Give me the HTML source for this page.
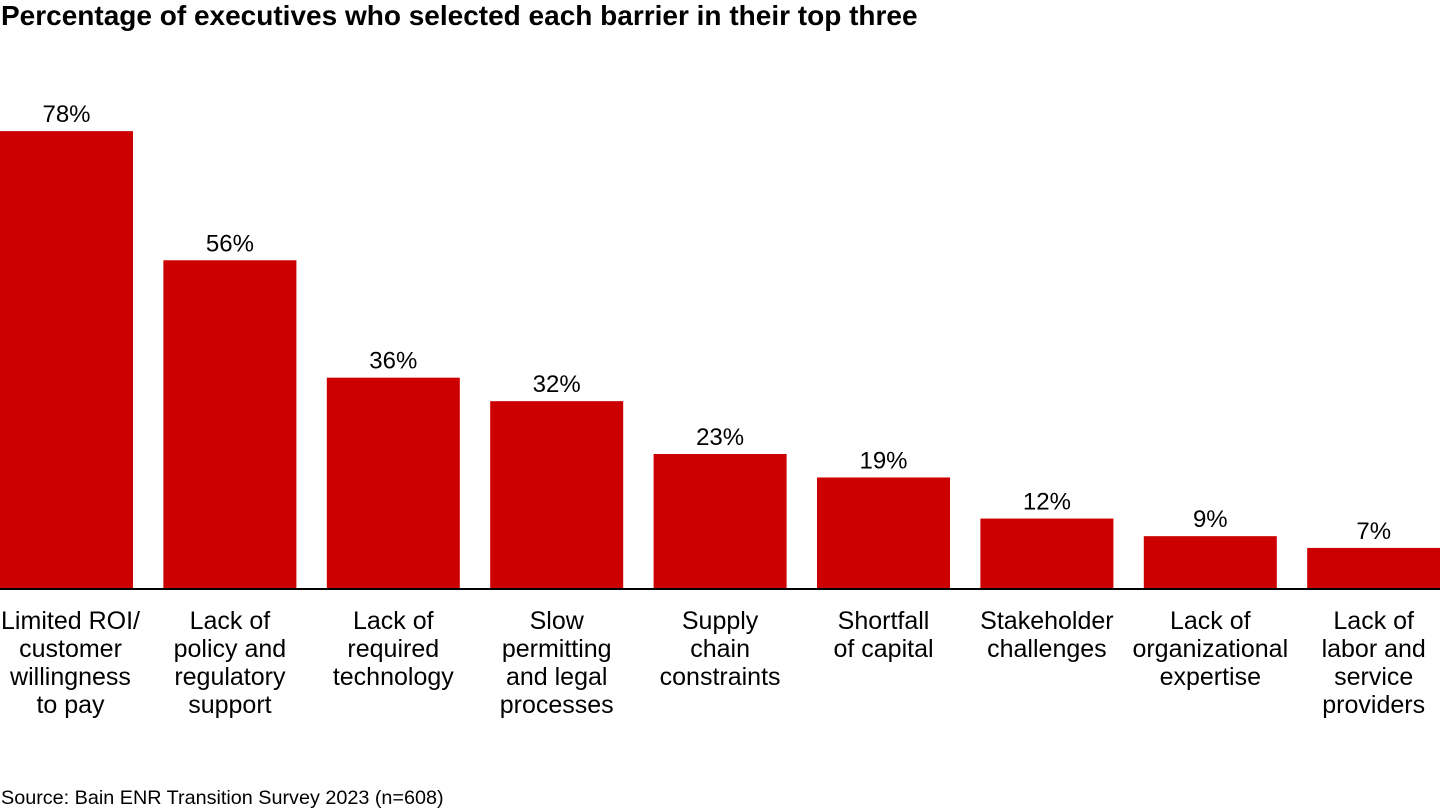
<!DOCTYPE html>
<html><head><meta charset="utf-8"><style>
html,body{margin:0;padding:0;background:#fff;width:1440px;height:810px;overflow:hidden;font-family:"Liberation Sans",Arial,sans-serif}
</style></head><body>
<svg id="chart" width="1440" height="810" xmlns="http://www.w3.org/2000/svg" font-family="Liberation Sans, Arial, sans-serif">
<text x="1" y="25" font-size="28" font-weight="bold" fill="#000">Percentage of executives who selected each barrier in their top three</text>
<g id="bars"></g>
<line x1="0" x2="1440" y1="589" y2="589" stroke="#000" stroke-width="2"/>
<text x="1" y="804" font-size="19.8" fill="#000">Source: Bain ENR Transition Survey 2023 (n=608)</text>
</svg>
<script>
const categories = [
 ["Limited ROI/","customer","willingness","to pay"],
 ["Lack of","policy and","regulatory","support"],
 ["Lack of","required","technology"],
 ["Slow","permitting","and legal","processes"],
 ["Supply","chain","constraints"],
 ["Shortfall","of capital"],
 ["Stakeholder","challenges"],
 ["Lack of","organizational","expertise"],
 ["Lack of","labor and","service","providers"]
];
const values = [78,56,36,32,23,19,12,9,7];
const valueLabels = ["78%","56%","36%","32%","23%","19%","12%","9%","7%"];
const labelShift = [4,0,0,0,0,0,0,0,0];

const NS="http://www.w3.org/2000/svg";
const g=document.getElementById('bars');
const baseY=589, pxPer=5.87, step=163.4, barW=133;
const xPos=i=>i*step;
const yPos=v=>baseY-v*pxPer;
values.forEach((v,i)=>{
  const r=document.createElementNS(NS,'rect');
  
  
  r.setAttribute('x',xPos(i));r.setAttribute('y',yPos(v));
  r.setAttribute('width',barW);r.setAttribute('height',baseY-yPos(v));
  r.setAttribute('fill','#cc0000');
  g.appendChild(r);
  const t=document.createElementNS(NS,'text');
  
  
  t.setAttribute('x',xPos(i)+barW/2);t.setAttribute('y',yPos(v)-9);
  t.setAttribute('text-anchor','middle');t.setAttribute('font-size','24');
  t.textContent=valueLabels[i];
  g.appendChild(t);
  const c=document.createElementNS(NS,'text');
  
  
  c.setAttribute('text-anchor','middle');c.setAttribute('font-size','25');
  categories[i].forEach((line,k)=>{
    const ts=document.createElementNS(NS,'tspan');
    ts.setAttribute('x',xPos(i)+barW/2+labelShift[i]);ts.setAttribute('y',629+k*28);
    ts.textContent=line;c.appendChild(ts);
  });
  g.appendChild(c);
});
</script>
</body></html>
